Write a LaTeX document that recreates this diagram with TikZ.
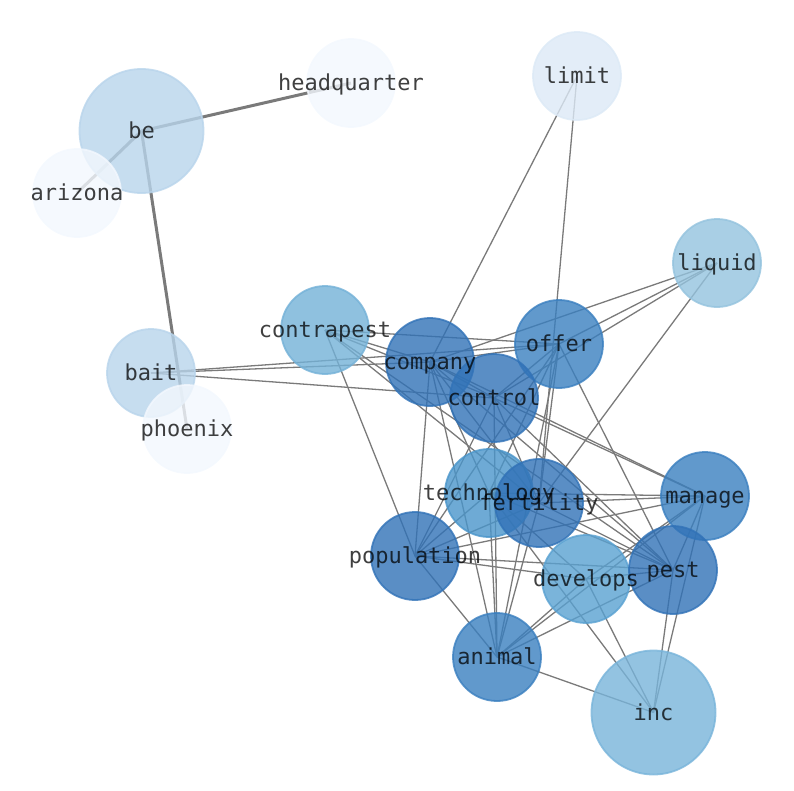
\documentclass[tikz,border=0pt]{standalone}
\usepackage{fontspec}
\setmonofont{DejaVu Sans Mono}
\pgfdeclarelayer{background}
\pgfsetlayers{background,main}
\definecolor{cA}{HTML}{F3F8FE}
\definecolor{cLim}{HTML}{DCE9F6}
\definecolor{cBe}{HTML}{B8D4EB}
\definecolor{cLiq}{HTML}{94C3DE}
\definecolor{cCon}{HTML}{73B1D7}
\definecolor{cInc}{HTML}{78B4DA}
\definecolor{cDev}{HTML}{59A1D1}
\definecolor{cTec}{HTML}{4A95CA}
\definecolor{cMid}{HTML}{3A7FBF}
\definecolor{cTop}{HTML}{3172B7}
\definecolor{edgegray}{HTML}{7A7A7A}
\tikzset{
  bubble/.style={circle, inner sep=0pt, minimum size=88pt, line width=1.8pt,
    fill=#1, draw=#1, fill opacity=0.8, draw opacity=0.8},
  bigbubble/.style={bubble=#1, minimum size=124pt},
  lbl/.style={font=\ttfamily\fontsize{22}{25}\selectfont, text=black, text opacity=0.75,
    inner sep=0pt, text height=18pt, text depth=3pt},
  thin edge/.style={draw=edgegray, line width=1.3pt},
  thick edge/.style={draw=edgegray, line width=3pt},
}
\begin{document}
\begin{tikzpicture}[x=1pt,y=-1pt]
\useasboundingbox (0,0) rectangle (794,790);
% nodes (drawing order matters for overlaps)
\node[bigbubble=cBe] (be) at (141.5,131) {};
\node[bubble=cA] (headquarter) at (351,83) {};
\node[bubble=cA] (arizona) at (77,193) {};
\node[bubble=cLim] (limit) at (577,76) {};
\node[bubble=cLiq] (liquid) at (717,263) {};
\node[bubble=cCon] (contrapest) at (325,330) {};
\node[bubble=cMid] (offer) at (559,344) {};
\node[bubble=cTop] (company) at (430,362) {};
\node[bubble=cBe] (bait) at (151,373) {};
\node[bubble=cA] (phoenix) at (187,429) {};
\node[bubble=cTop] (control) at (494,398) {};
\node[bubble=cTec] (technology) at (489,493) {};
\node[bubble=cTop] (fertility) at (539,503) {};
\node[bubble=cMid] (manage) at (705,496) {};
\node[bubble=cDev] (develops) at (586,579) {};
\node[bubble=cTop] (population) at (415,556) {};
\node[bubble=cTop] (pest) at (673,570) {};
\node[bubble=cMid] (animal) at (497,657) {};
\node[bigbubble=cInc] (inc) at (653.5,712.5) {};
% labels
\foreach \n in {be,headquarter,arizona,limit,liquid,contrapest,offer,company,bait,phoenix,control,technology,fertility,manage,develops,population,pest,animal,inc}
  \node[lbl] (\n-t) at (\n) {\n};
% edges
\begin{pgfonlayer}{background}
\foreach \a/\b in {be/headquarter,be/arizona,be/phoenix}
  \draw[thick edge] (\a.center) -- (\b.center);
\foreach \a/\b in {limit/company,limit/fertility,
  liquid/company,liquid/offer,liquid/control,liquid/fertility,
  bait/offer,bait/company,bait/control,
  contrapest/offer,contrapest/company,contrapest/control,contrapest/population,contrapest/fertility,contrapest/pest,
  company/offer,company/control,company/population,company/animal,company/manage,company/pest,company/fertility,company/technology,
  offer/control,offer/pest,offer/fertility,offer/population,offer/technology,offer/animal,
  inc/develops,inc/technology,inc/manage,inc/animal,inc/pest,
  develops/technology,develops/manage,develops/animal,develops/pest,develops/population,
  technology/manage,technology/animal,technology/pest,technology/population,technology/fertility,
  manage/animal,manage/pest,manage/population,manage/fertility,manage/control,
  animal/pest,animal/population,animal/fertility,animal/control,
  pest/population,pest/fertility,pest/control,
  population/fertility,population/control,
  fertility/control}
  \draw[thin edge] (\a.center) -- (\b.center);
\end{pgfonlayer}
\end{tikzpicture}
\end{document}
